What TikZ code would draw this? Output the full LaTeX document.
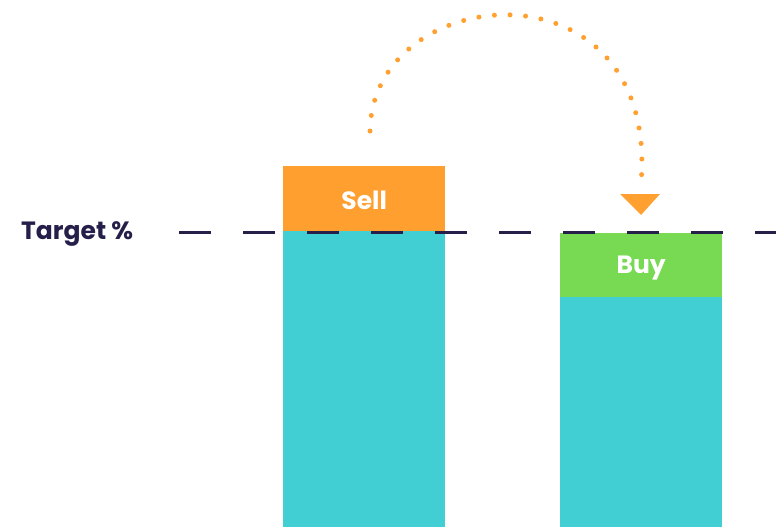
\documentclass[tikz,border=0pt]{standalone}
\usepackage{fontspec}
\setmainfont{Poppins}[UprightFont=* SemiBold,BoldFont=* Bold]
\usetikzlibrary{shapes.geometric}
\definecolor{navy}{HTML}{251F4A}
\definecolor{teal}{HTML}{41CFD4}
\definecolor{sellorange}{HTML}{FF9F2F}
\definecolor{buygreen}{HTML}{78D952}
\definecolor{arroworange}{HTML}{FFA030}
\tikzset{
  barbox/.style={fill=teal, draw=none, inner sep=0pt, anchor=north west},
  tagbox/.style={draw=none, inner sep=0pt, anchor=north west},
  bigtext/.style={font=\fontsize{25}{28}\selectfont\bfseries, inner sep=0pt},
  targetline/.style={navy, line width=2.4pt, dash pattern=on 32pt off 32pt},
  dotted arc/.style={arroworange, line width=5pt, line cap=round, dash pattern=on 0pt off 15.6pt},
}
\begin{document}
\begin{tikzpicture}[x=1pt,y=-1pt]
\useasboundingbox (0,0) rectangle (776,527);
% bars
\node[barbox, minimum width=162pt, minimum height=296pt] (leftbar) at (283,231) {};
\node[barbox, minimum width=162pt, minimum height=230pt] (rightbar) at (560,297) {};
\node[tagbox, fill=sellorange, minimum width=162pt, minimum height=65pt] (sell) at (283,166) {};
\node[bigtext, text=white] (selltext) at ([yshift=-1.5pt]sell.center) {Sell};
\node[tagbox, fill=buygreen, minimum width=162pt, minimum height=64pt] (buy) at (560,233) {};
\node[bigtext, text=white] (buytext) at ([yshift=-2.5pt]buy.center) {Buy};
% target line
\node[bigtext, text=navy, anchor=base west] (target) at (21,239) {Target \%};
\coordinate (lstart) at (179,232.5);
\coordinate (lend) at (776,232.5);
\draw[targetline] (lstart) -- (lend);
% arrow
\coordinate (astart) at (370,131);
\coordinate (aend) at (641,184);
\draw[dotted arc] (astart) .. controls (372,-20) and (660,-45) .. (aend);
\fill[arroworange] (620,194) -- (660,194) -- (641,215) -- cycle;
\end{tikzpicture}
\end{document}
